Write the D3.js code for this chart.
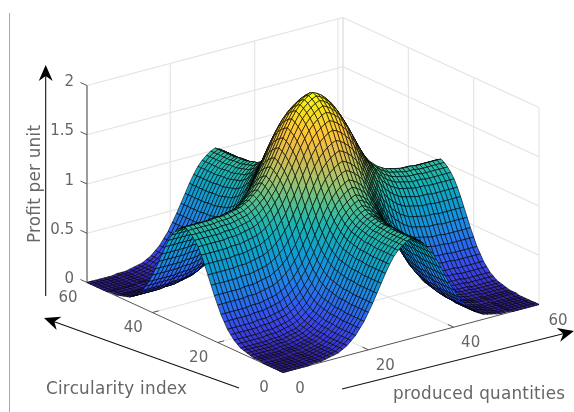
<!DOCTYPE html>
<html><head><meta charset="utf-8">
<script src="https://cdn.jsdelivr.net/npm/d3@7"></script>
<style>
html,body{margin:0;padding:0;background:#fff;overflow:hidden}
svg{display:block;font-family:"DejaVu Sans",sans-serif}
#marks{filter:blur(0.35px)}
</style></head><body>
<svg id="c" width="574" height="412"><g id="marks"></g></svg>
<script>
// Height. The surface is a sum of a ridge along each axis,
// so it is stored as two literal profiles (z contribution per mesh index 0..60).
const profileX = [0,0,0,0,0,0,0,.01,.01,.01,.02,.03,.04,.05,.075,.10,.14,.18,.24,.30,.38,.46,.55,.64,.73,.81,.88,.93,.97,1.00,1.02,1.00,.97,.93,.88,.81,.73,.64,.55,.46,.38,.30,.24,.18,.14,.10,.075,.05,.04,.03,.02,.01,.01,.01,0,0,0,0,0,0,0];
const profileY = [0,0,0,0,0,0,0,.01,.01,.01,.02,.03,.04,.05,.075,.10,.14,.18,.24,.30,.38,.46,.55,.64,.73,.81,.88,.93,.97,1.00,1.02,1.00,.97,.93,.88,.81,.73,.64,.55,.46,.38,.30,.24,.18,.14,.10,.075,.05,.04,.03,.02,.01,.01,.01,0,0,0,0,0,0,0];
const xTicks = [0,20,40,60];
const yTicks = [0,20,40,60];
const zTicks = [0,0.5,1,1.5,2];
const wallXGrid = [19.5,39.3,58.8,60];
const wallYGrid = [20,40,60];
const stopZ = [0,0.06,0.16,0.3,0.48,0.7,0.92,1.1,1.32,1.55,1.72,1.9,2.04];
const colorStops = ["#35219a","#3a35cc","#3a47ea","#2d63f0","#1f86e6","#0d9fd2","#17b3b4","#4cbf92","#a5c46c","#e1bb4c","#ffc337","#f5de21","#f9fb0e"];

const svg=d3.select("#c");
const root=svg.select("#marks");
const ox=283, oy=372.5;
const xToPx=d3.scaleLinear([0,60],[0,256]), xToPy=d3.scaleLinear([0,60],[0,-68]);
const yToPx=d3.scaleLinear([0,60],[0,-196]), yToPy=d3.scaleLinear([0,60],[0,-90]);
const zToPy=d3.scaleLinear([0,2],[0,-197]);
const P=(x,y,z)=>[ox+xToPx(x)+yToPx(y), oy+xToPy(x)+yToPy(y)+zToPy(z)];
const color=d3.scaleLinear().domain(stopZ).range(colorStops).clamp(true);
const line=d3.line();
const seg=(g,a,b,st,w)=>g.append("path").attr("d",line([a,b])).attr("fill","none").attr("stroke",st).attr("stroke-width",w);

const grid=root.append("g");
const GC="#e3e3e3",GW=1.1;
zTicks.forEach(z=>{seg(grid,P(0,60,z),P(60,60,z),GC,GW);seg(grid,P(60,60,z),P(60,0,z),GC,GW);});
wallXGrid.forEach(x=>seg(grid,P(x,60,0),P(x,60,2),GC,GW));
wallYGrid.forEach(y=>seg(grid,P(60,y,0),P(60,y,2),GC,GW));
seg(grid,P(60,0,0),P(60,0,2),GC,GW);
[20,40].forEach(x=>seg(grid,P(x,0,0),P(x,60,0),GC,GW));
[20,40].forEach(y=>seg(grid,P(0,y,0),P(60,y,0),GC,GW));

const ax=root.append("g");
seg(ax,P(0,60,0),P(0,60,2),"#3a3a3a",1);
seg(ax,P(0,60,0),P(0,0,0),"#555",1);
seg(ax,P(0,0,0),P(60,0,0),"#555",1);
zTicks.forEach(z=>seg(ax,P(0,60,z),P(0,62,z),"#555",1));
yTicks.forEach(y=>seg(ax,P(0,y,0),P(1.5,y,0),"#555",1));
xTicks.forEach(x=>seg(ax,P(x,0,0),P(x,1.8,0),"#555",1));

const surf=root.append("g");
const cells=[];
for(let i=profileX.length-2;i>=0;i--)for(let j=profileY.length-2;j>=0;j--)cells.push([i,j]);
const Z=(i,j)=>profileX[i]+profileY[j];
surf.selectAll("path").data(cells).join("path")
 .attr("d",([i,j])=>line([P(i,j,Z(i,j)),P(i+1,j,Z(i+1,j)),P(i+1,j+1,Z(i+1,j+1)),P(i,j+1,Z(i,j+1))])+"Z")
 .attr("fill",([i,j])=>color((Z(i,j)+Z(i+1,j)+Z(i,j+1)+Z(i+1,j+1))/4))
 .attr("stroke","#000").attr("stroke-width",0.62).attr("stroke-linejoin","round");

const deco=root.append("g");
seg(deco,[9.5,13],[9.5,412],"#aaa",1);
function arrow(a,t){
  const ang=Math.atan2(t[1]-a[1],t[0]-a[0]),c=Math.cos(ang),s=Math.sin(ang);
  const pt=(u,v)=>[t[0]+u*c-v*s,t[1]+u*s+v*c];
  seg(deco,a,pt(-8,0),"#111",1.1);
  deco.append("path").attr("d",line([t,pt(-16,7),pt(-11,0),pt(-16,-7)])+"Z").attr("fill","#000");
}
arrow([45.7,296],[45.7,65]);
arrow([239,388],[44,318]);
arrow([342,389],[574,331]);

const T="#666";
const txt=(x,y,s,anchor,rot,fs)=>root.append("text").attr("transform",`translate(${x},${y}) rotate(${rot})`).attr("text-anchor",anchor).attr("fill",T).attr("font-size",fs).text(s);
zTicks.forEach(z=>{const p=P(0,60,z);txt(p[0]-13,p[1]+0.5,String(z),"end",0,15);});
yTicks.forEach(y=>{const p=P(0,y,0);txt(p[0]-19,p[1]+19,String(y),"middle",0,15);});
xTicks.forEach(x=>{const p=P(x,0,0);txt(p[0]+17+(x==60?2:0),p[1]+20,String(x),"middle",0,15);});
txt(46,394,"Circularity index","start",0,16.8).attr("textLength",141).attr("lengthAdjust","spacing");
txt(393,399,"produced quantities","start",0,16.8).attr("textLength",172).attr("lengthAdjust","spacing");
txt(40,243,"Profit per unit","start",-90,16.8).attr("textLength",118).attr("lengthAdjust","spacing");
</script></body></html>
